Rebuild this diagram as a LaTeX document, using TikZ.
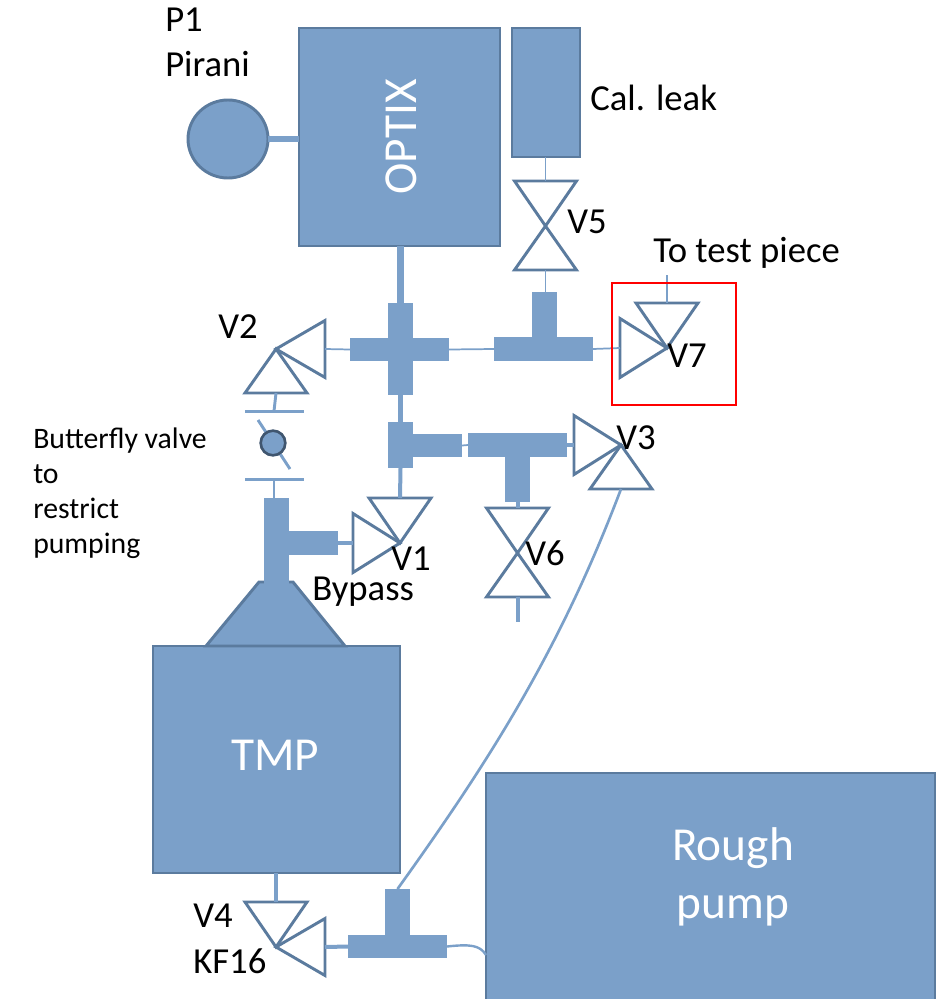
\documentclass[tikz,border=0pt]{standalone}
\usepackage{fontspec}
\setmainfont{Carlito}
\usetikzlibrary{shapes.geometric}
\definecolor{pipeblue}{HTML}{7BA0C9}
\definecolor{edgeblue}{HTML}{5B7B9E}
\begin{document}
\begin{tikzpicture}[x=0.75pt,y=-0.75pt]
\tikzset{wh/.style 2 args={minimum width=#1*0.75pt,minimum height=#2*0.75pt}}
\tikzstyle{pipe}=[fill=pipeblue,inner sep=0pt,outer sep=0pt]
\tikzstyle{vessel}=[fill=pipeblue,draw=edgeblue,line width=2.2pt,inner sep=0pt,outer sep=0pt,text=white]
\tikzstyle{valve}=[isosceles triangle,isosceles triangle stretches,fill=white,draw=edgeblue,line width=2.2pt,inner sep=0pt,outer sep=0pt,anchor=apex]
\tikzstyle{valver}=[valve,minimum width=44.25pt,minimum height=35.25pt,shape border rotate=0]
\tikzstyle{valvel}=[valve,minimum width=42.75pt,minimum height=36.75pt,shape border rotate=180]
\tikzstyle{valved}=[valve,minimum width=46.5pt,minimum height=33.75pt,shape border rotate=-90]
\tikzstyle{valveu}=[valve,minimum width=46.5pt,minimum height=33pt,shape border rotate=90]
\tikzstyle{thin}=[draw=pipeblue,line width=1.3pt]
\tikzstyle{stub}=[draw=pipeblue,line width=2.2pt]
\tikzstyle{mid}=[draw=pipeblue,line width=3pt]
\tikzstyle{fat}=[draw=pipeblue,line width=5pt]
\tikzstyle{lab}=[inner sep=0pt,font=\fontsize{27.5}{30}\selectfont,text=black]
\tikzstyle{big}=[inner sep=0pt,font=\fontsize{35.5}{43.5}\selectfont,text=white]
\clip (0,0) rectangle (943,999);

% vessels
\path (399.5,137) node[vessel,wh={201}{218}](optix){};
\path (401,137) node[big,rotate=90](optixtxt){OPTIX};
\path (546,92.5) node[vessel,wh={68}{129}](calleak){};
\path (228,139) node[vessel,ellipse,wh={80}{78}](pirani){};
\path (276.5,759.5) node[vessel,wh={247}{227}](tmp){};
\path (275,755) node[big](tmptxt){TMP};
\path (710.5,889) node[vessel,wh={449}{232}](rough){};
\path (733,877) node[big,align=center](roughtxt){Rough\\pump};
\filldraw[fill=pipeblue,draw=edgeblue,line width=2.2pt] (259,582) -- (293,582) -- (345,646) -- (206,646) -- cycle;

% pipe fittings
\path (399.5,349.5) node[pipe,wh={99}{23}](crossh){} (400.5,349) node[pipe,wh={25}{92}](crossv){};
\path (400.5,445) node[pipe,wh={25}{46}](elbv){} (437.5,445.5) node[pipe,wh={49}{23}](elbh){};
\path (543.5,349) node[pipe,wh={99}{24}](teeah){} (544.5,314.5) node[pipe,wh={25}{45}](teeav){};
\path (517.5,445) node[pipe,wh={99}{24}](teebh){} (517.5,479.5) node[pipe,wh={25}{45}](teebv){};
\path (276.5,541) node[pipe,wh={25}{86}](teecv){} (313.5,543) node[pipe,wh={49}{24}](teech){};
\path (397.5,946.5) node[pipe,wh={99}{23}](teedh){} (397.5,912) node[pipe,wh={25}{46}](teedv){};
\path (274,411) node[pipe,wh={59}{3}](flangea){} (274,479.5) node[pipe,wh={59}{3}](flangeb){};

% valves
\path (400,543) node[valved](vad){} (400,543) node[valver](var){};
\path (276,349) node[valveu](vbu){} (276,349) node[valvel](vbl){};
\path (621,445) node[valveu](vcu){} (621,445) node[valver](vcr){};
\path (276,947) node[valved](vdd){} (276,947) node[valvel](vdl){};
\path (545.5,226) node[valved](ved){} (545.5,226) node[valveu](veu){};
\path (517.5,553) node[valved](vfd){} (517.5,553) node[valveu](vfu){};
\path (667,348) node[valved](vgd){} (667,348) node[valver](vgr){};

\coordinate (testend) at (667,275);
\coordinate (ventend) at (517.5,622);
\coordinate (roughin) at (486,955);
\coordinate (vanea) at (258,420);
\coordinate (vaneb) at (290,469);

% connectors
\draw[fat] (pirani.east) -- (optix.west |- pirani.east);
\draw[fat] (optix.south -| crossv.north) -- (crossv.north);
\draw[fat,line width=3.8pt] (crossv.south) -- (elbv.north);
\draw[mid] (elbv.south) -- (vad.lower side);
\draw[thin] (calleak.south -| ved.lower side) -- (ved.lower side);
\draw[thin] (veu.lower side) -- (teeav.north -| veu.lower side);
\draw[thin] (crossh.east) -- (teeah.west);
\draw[thin] (teeah.east) -- (vgr.lower side);
\draw[thin] (testend) -- (vgd.lower side);
\draw[thin] (crossh.west) -- (vbl.lower side);
\draw[stub] (vbu.lower side) -- (flangea.center);
\draw[stub] (flangeb.center) -- (teecv.north -| flangeb.center);
\draw[mid] (teech.east) -- (var.lower side);
\draw[thin] (elbh.east) -- (teebh.west);
\draw[mid] (teebh.east) -- (vcr.lower side);
\draw[mid] (teebv.south) -- (vfd.lower side);
\draw[mid] (vfu.lower side) -- (ventend);
\draw[mid] (tmp.south -| vdd.lower side) -- (vdd.lower side);
\draw[mid] (vdl.lower side) -- (teedh.west);
\draw[thin,line width=1.8pt] (teedh.east) .. controls (470,944) and (480,945) .. (roughin);
\draw[thin,line width=2pt] (vcu.lower side) .. controls (560,650) and (490,760) .. (teedv.north);

% butterfly valve
\draw[stub] (vanea) -- (vaneb);
\path (273,443) node[circle,fill=pipeblue,draw=edgeblue!70!black,line width=2pt,inner sep=0pt,minimum size=18.5pt](vane){};

% test piece marker
\path (674,344) node[draw=red,line width=2.2pt,wh={124}{122},inner sep=0pt](marker){};

% labels
\path (165,20) node[lab,anchor=west](pone){P1};
\path (165,64) node[lab,anchor=west](pirtxt){Pirani};
\path (590,98) node[lab,anchor=west](caltxt){Cal. leak};
\path (587,222) node[lab](vfive){V5};
\path (653,253) node[lab,anchor=west](testtxt){To test piece};
\path (687,356) node[lab](vseven){V7};
\path (238,327) node[lab](vtwo){V2};
\path (636,438) node[lab](vthree){V3};
\path (545,553) node[lab](vsix){V6};
\path (411,559) node[lab](vone){V1};
\path (312,592) node[lab,anchor=west](bypass){Bypass};
\path (193,916) node[lab,anchor=west](vfour){V4};
\path (193,961) node[lab,anchor=west](kf){KF16};
\path (33,493.5) node[lab,anchor=west,align=left,font=\fontsize{22.3}{26.25}\selectfont](bfly){Butterfly valve\\to\\restrict\\pumping};
\end{tikzpicture}
\end{document}
